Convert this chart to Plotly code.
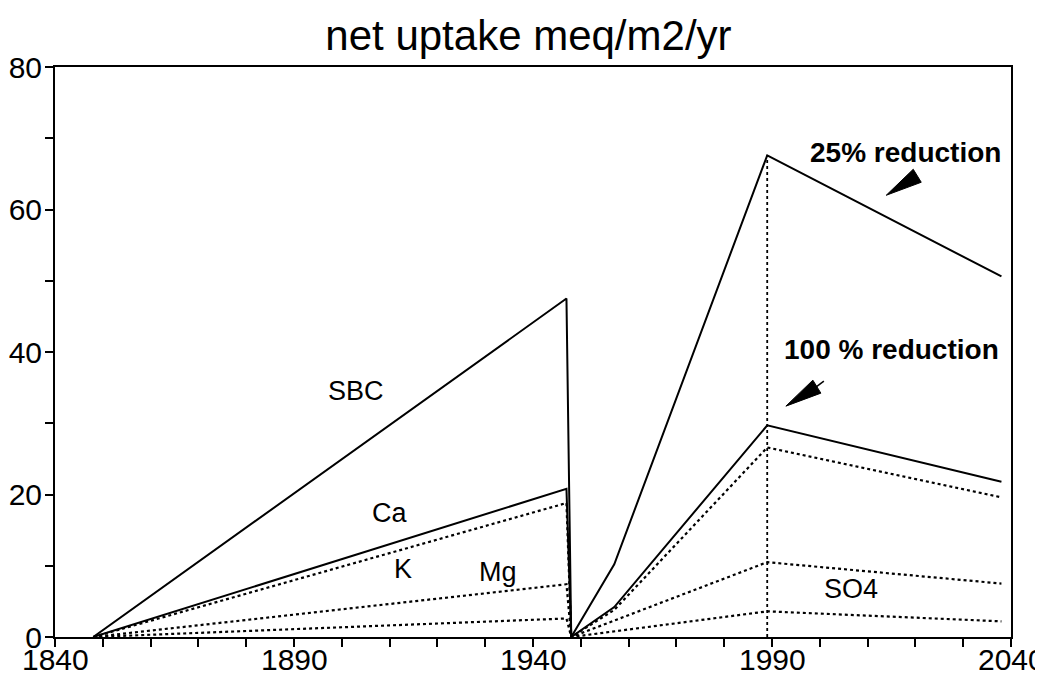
import plotly.graph_objects as go

# --- data ---
sbc_x = [1848, 1947, 1948, 1957, 1989, 2038]
sbc_y = [0, 47.5, 0, 10.2, 67.6, 50.6]

ca_x = [1848, 1947, 1948, 1957, 1989, 2038]
ca_y = [0, 20.8, 0, 4.2, 29.7, 21.8]

k_x = [1848, 1947, 1948, 1957, 1989, 2038]
k_y = [0, 18.8, 0, 3.8, 26.6, 19.6]

mg_x = [1848, 1947, 1948, 1989, 2038]
mg_y = [0, 7.4, 0, 10.5, 7.5]

so4_x = [1848, 1947, 1948, 1989, 2038]
so4_y = [0, 2.6, 0, 3.6, 2.2]

x_ticks = [1840, 1890, 1940, 1990, 2040]
y_ticks = [0, 20, 40, 60, 80]

labels = ["SBC", "Ca", "K", "Mg", "SO4"]
label_x = [1903, 1910, 1912.7, 1932.6, 2006.5]
label_y = [34.5, 17.4, 9.5, 9.1, 6.8]

notes = ["25% reduction", "100 % reduction"]
note_x = [2018, 2015]
note_y = [68.0, 40.3]
arrow_x = [2013.9, 1992.9]
arrow_y = [62.0, 32.4]

FONT = "Arial, Liberation Sans, Helvetica, sans-serif"
TICKFONT = "Liberation Sans Narrow, Arial Narrow, Arial, Liberation Sans, sans-serif"

fig = go.Figure()
series = [
    (sbc_x, sbc_y, "solid", 2),
    (ca_x, ca_y, "solid", 2),
    (k_x, k_y, "dot", 2.2),
    (mg_x, mg_y, "dot", 2.2),
    (so4_x, so4_y, "dot", 2.2),
]
for xs, ys, dash, w in series:
    fig.add_trace(go.Scatter(x=xs, y=ys, mode="lines",
                             line=dict(color="black", width=w, dash=dash),
                             showlegend=False, hoverinfo="skip",
                             cliponaxis=False))

# dotted vertical at the 1989 peak
fig.add_shape(type="line", x0=sbc_x[4], x1=sbc_x[4], y0=0, y1=sbc_y[4],
              xref="x", yref="y", line=dict(color="black", width=1.8, dash="dot"))

for t, x, y in zip(labels, label_x, label_y):
    fig.add_annotation(x=x, y=y, text=t, showarrow=False,
                       font=dict(family=FONT, size=27, color="black"))
for t, x, y in zip(notes, note_x, note_y):
    fig.add_annotation(x=x, y=y, text="<b>" + t + "</b>", showarrow=False,
                       font=dict(family=FONT, size=28, color="black"))

# x tick labels placed right under the tick marks
for v in x_ticks:
    fig.add_annotation(x=v, xref="x", y=0, yref="paper", yanchor="top",
                       yshift=-4, text=str(v), showarrow=False,
                       font=dict(family=TICKFONT, size=30, color="black"))

# wedge-shaped arrowheads
for i, (ax, ay) in enumerate(zip(arrow_x, arrow_y)):
    fig.add_shape(type="path", xref="x", yref="y",
                  xsizemode="pixel", ysizemode="pixel",
                  xanchor=ax, yanchor=ay,
                  path="M0,0 L27,26 L35,13 Z",
                  fillcolor="black", line=dict(color="black", width=1))
    if i == 1:
        fig.add_shape(type="path", xref="x", yref="y",
                      xsizemode="pixel", ysizemode="pixel",
                      xanchor=ax, yanchor=ay,
                      path="M30,19 L38,25",
                      line=dict(color="black", width=1.5))

fig.update_layout(
    width=1043, height=679,
    margin=dict(l=47, r=40, t=59, b=50, autoexpand=False),
    paper_bgcolor="white", plot_bgcolor="white",
    title=dict(text="net uptake meq/m2/yr", x=0.499, xanchor="center",
               y=0.96, yanchor="middle",
               font=dict(family=FONT, size=42, color="black")),
    font=dict(family=FONT, color="black"),
)
fig.update_xaxes(range=[1840, 2040], tickvals=x_ticks, showticklabels=False,
                 ticks="outside", ticklen=8, tickwidth=1.5, tickcolor="black",
                 minor=dict(dtick=10, tick0=1840, ticks="outside", ticklen=8,
                            tickwidth=1.5, tickcolor="black"),
                 showline=True, linecolor="black", linewidth=2, mirror=True,
                 showgrid=False, zeroline=False, automargin=False)
fig.update_yaxes(range=[0, 80], tickvals=y_ticks,
                 ticks="outside", ticklen=8, tickwidth=1.5, tickcolor="black",
                 minor=dict(dtick=10, tick0=0, ticks="outside", ticklen=8,
                            tickwidth=1.5, tickcolor="black"),
                 showline=True, linecolor="black", linewidth=2, mirror=True,
                 showgrid=False, zeroline=False, automargin=False,
                 ticklabeloverflow="allow", ticklabelstandoff=-3,
                 tickfont=dict(family=FONT, size=30, color="black"))

fig.write_html("out.html")
